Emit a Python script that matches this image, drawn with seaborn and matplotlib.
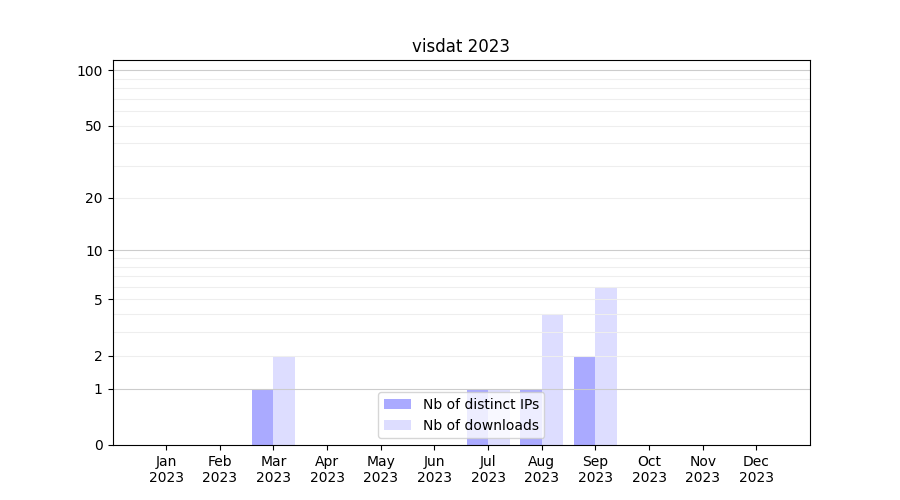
import numpy as np
import pandas as pd
import matplotlib
matplotlib.use("Agg")
import matplotlib.pyplot as plt
import matplotlib.ticker as mticker
import seaborn as sns

months = ["Jan", "Feb", "Mar", "Apr", "May", "Jun", "Jul", "Aug", "Sep", "Oct", "Nov", "Dec"]
year = "2023"
distinct_ips = [0, 0, 1, 0, 0, 0, 1, 1, 2, 0, 0, 0]
downloads = [0, 0, 2, 0, 0, 0, 1, 4, 6, 0, 0, 0]

yticks = [0, 1, 2, 5, 10, 20, 50, 100]
decade_grid = [1, 10, 100]
light_grid = [2, 3, 4, 5, 6, 7, 8, 9, 20, 30, 40, 50, 60, 70, 80, 90]

labels = ["%s\n%s" % (m, year) for m in months]
df = pd.DataFrame({
    "month": labels * 2,
    "value": distinct_ips + downloads,
    "kind": ["Nb of distinct IPs"] * 12 + ["Nb of downloads"] * 12,
})

fig, ax = plt.subplots(figsize=(9, 5), dpi=100)
sns.barplot(data=df, x="month", y="value", hue="kind", order=labels,
            palette=["#aaaaff", "#ddddff"], saturation=1, width=0.8,
            errorbar=None, ax=ax)

# log(1+x) scale
ax.set_yscale("function", functions=(lambda v: np.log10(1 + np.clip(v, 0, None)),
                                      lambda v: 10 ** v - 1))
ax.set_ylim(0, 113.5)
ax.set_xlim(-1, 12)

ax.yaxis.set_major_locator(mticker.FixedLocator(yticks))
ax.yaxis.set_major_formatter(mticker.FixedFormatter([str(v) for v in yticks]))
ax.yaxis.set_minor_locator(mticker.NullLocator())
ax.grid(False)

# grid drawn above the bars, below the spines
ax.hlines(light_grid, -1, 12, color="#eeeeee", linewidth=0.8, zorder=2)
ax.hlines(decade_grid, -1, 12, color="#cccccc", linewidth=0.8, zorder=2)

ax.set_xlabel("")
ax.set_ylabel("")
ax.set_title("visdat 2023")
ax.legend(loc="lower center")
fig.savefig("out.png")
